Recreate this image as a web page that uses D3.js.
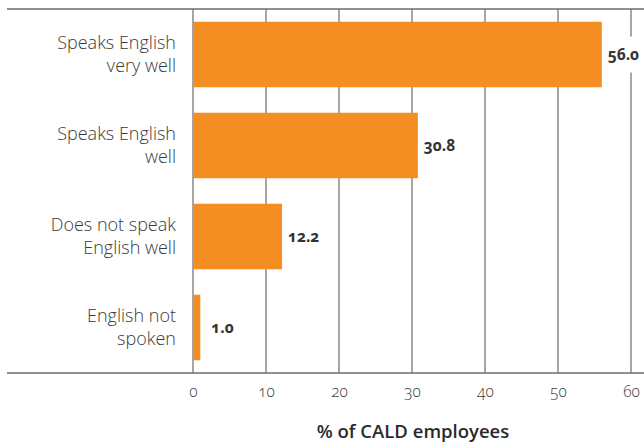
<!DOCTYPE html>
<html><head><meta charset="utf-8">
<script src="https://cdn.jsdelivr.net/npm/d3@7"></script>
<style>
body{margin:0;background:#fff;}
text{font-family:"Open Sans",sans-serif;}
</style></head>
<body>
<svg id="chart" width="644" height="442"></svg>
<script>
const categories = [["Speaks English","very well"],["Speaks English","well"],["Does not speak","English well"],["English not","spoken"]];
const values = [56.0, 30.8, 12.2, 1.0];
const tickValues = [0,10,20,30,40,50,60];
const axisTitle = "% of CALD employees";

(function(){
const svg = d3.select("#chart");
const mLeft = 193, mRight = 631, mTop = 9, mBottom = 373;
const x = d3.scaleLinear().domain([0,60]).range([mLeft,mRight]);
const y = d3.scaleBand().domain(d3.range(categories.length)).range([mTop,mBottom]).paddingInner(0.28).paddingOuter(0.14);

svg.append("g").selectAll("line").data(tickValues).join("line")
  .attr("x1",d=>x(d)).attr("x2",d=>x(d)).attr("y1",mTop).attr("y2",mBottom)
  .attr("stroke","#6b6b6b").attr("stroke-width",1.2);

[mTop,mBottom].forEach(yy=>{
  svg.append("line").attr("x1",7).attr("x2",644).attr("y1",yy).attr("y2",yy)
    .attr("stroke","#6b6b6b").attr("stroke-width",1.4);
});

svg.append("g").selectAll("rect").data(values).join("rect")
  .attr("x",x(0)).attr("y",(d,i)=>y(i)).attr("width",d=>x(d)-x(0)).attr("height",y.bandwidth())
  .attr("fill","#F58E22");

const vl = svg.append("g").selectAll("g").data(values).join("g")
  .attr("transform",(d,i)=>`translate(${x(d)+(d<5?11:6)},${y(i)+y.bandwidth()/2})`);
vl.append("rect").attr("x",-2).attr("y",-18).attr("width",40).attr("height",36).attr("fill","#fff");
vl.append("text").text(d=>d.toFixed(1))
  .attr("dy","0.35em").attr("font-size",15.5).attr("font-weight",700).attr("fill","#333")
  .style("font-variant-numeric","oldstyle-nums");

const cg = svg.append("g").selectAll("g").data(categories).join("g")
  .attr("transform",(d,i)=>`translate(176,${y(i)+y.bandwidth()/2})`);
cg.selectAll("text").data(d=>d).join("text")
  .attr("text-anchor","end").attr("font-size",18).attr("font-weight",300).attr("fill","#3a3a3a")
  .attr("x",0).attr("y",(d,j)=>j===0?-11.5:11.5).attr("dy","0.35em").text(d=>d);

const axis = d3.axisBottom(x).tickValues(tickValues).tickSize(0).tickPadding(13);
const ga = svg.append("g").attr("transform",`translate(0,${mBottom})`).call(axis);
ga.select(".domain").remove();
ga.selectAll("text").attr("font-size",15.5).attr("font-weight",300).attr("fill","#3a3a3a")
  .style("font-family","'Open Sans',sans-serif").style("font-variant-numeric","oldstyle-nums");

svg.append("text").attr("x",413).attr("y",438).attr("text-anchor","middle")
  .attr("font-size",18.5).attr("font-weight",600).attr("fill","#2a2a2a").text(axisTitle);
})();
</script>
</body></html>
